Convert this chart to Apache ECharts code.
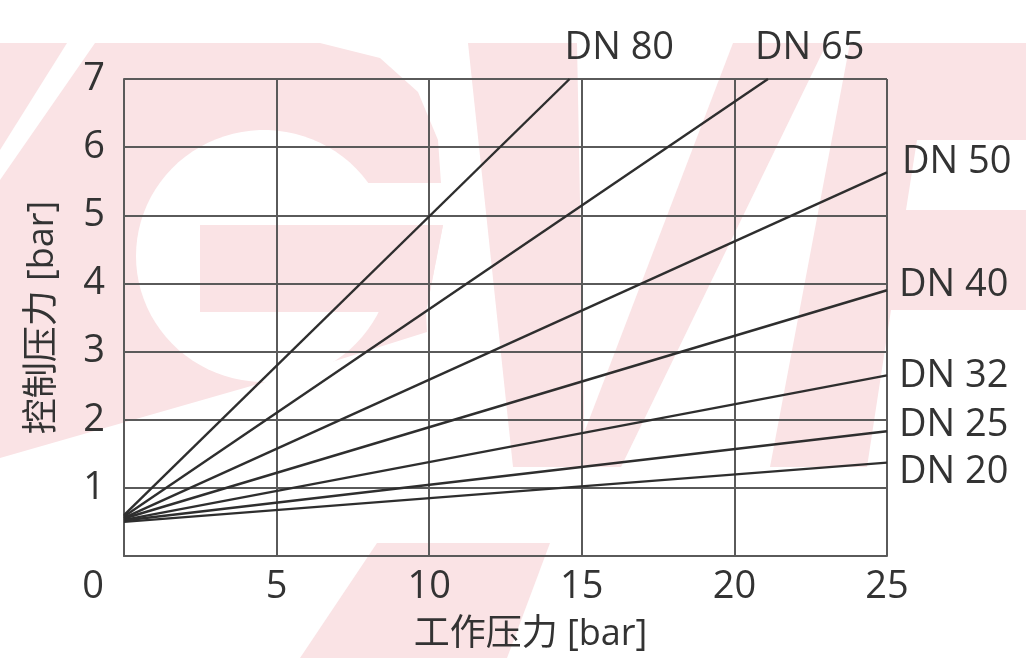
<!DOCTYPE html>
<html>
<head>
<meta charset="utf-8">
<script src="https://cdn.jsdelivr.net/npm/echarts@6/dist/echarts.min.js"></script>
<style>
html,body{margin:0;padding:0;background:#fff;}
#chart{width:1026px;height:658px;}
</style>
</head>
<body>
<div id="chart"></div>
<script>
// ---- data ----
const seriesNames = ['DN 80', 'DN 65', 'DN 50', 'DN 40', 'DN 32', 'DN 25', 'DN 20'];
const startX = [0, 0, 0, 0, 0, 0, 0];
const startY = [0.6, 0.58, 0.56, 0.55, 0.53, 0.52, 0.5];
const endX = [14.6, 21.1, 25, 25, 25, 25, 25];
const endY = [7, 7, 5.63, 3.9, 2.65, 1.83, 1.37];
const xTickLabels = [0, 5, 10, 15, 20, 25];
const yTickLabels = [0, 1, 2, 3, 4, 5, 6, 7];
const xAxisTitle = '工作压力 [bar]';
const yAxisTitle = '控制压力 [bar]';

// ---- style ----
const FONT = '"Open Sans", "Noto Sans CJK SC", sans-serif';
const TEXT = '#333333';
const GRIDC = '#5a5a5a';
const PINK = '#fae3e5';
const endLabelOffsets = [[-5, -31], [-13, -31], [15, -10], [12, -5], [12, 1], [12, -6], [12, 10]];

const chart = echarts.init(document.getElementById('chart'), null, {renderer: 'canvas'});

function ellipse(cx, cy, rx, ry, n) {
  const pts = [];
  for (let i = 0; i < n; i++) {
    const t = i / n * Math.PI * 2;
    pts.push([cx + rx * Math.cos(t), cy + ry * Math.sin(t)]);
  }
  return pts;
}

// watermark (decorative background logo)
const watermarkShapes = [
  {points: [[0, 43], [67, 43], [0, 150]]},
  {points: [[95, 43], [320, 43], [380, 58], [418, 92], [438, 140], [441, 183], [300, 183], [300, 225], [443, 225], [426, 312], [427, 332], [300, 372], [150, 415], [0, 458], [0, 180]]},
  {points: ellipse(264, 256, 128, 126, 90), fill: '#ffffff'},
  {points: [[200, 225], [443, 225], [426, 312], [200, 312]]},
  {points: [[468, 43], [577, 43], [585, 467], [513, 467]]},
  {points: [[733, 43], [827, 43], [621, 467], [571, 467]]},
  {points: [[850, 43], [1026, 43], [1026, 140], [917, 140], [906, 210], [1026, 210], [1026, 310], [891, 310], [867, 467], [770, 467]]},
  {points: [[377, 543], [550, 543], [507, 658], [300, 658]]}
];
const watermark = watermarkShapes.map(s => ({
  type: 'polygon', z: -100, silent: true,
  shape: {points: s.points},
  style: {fill: s.fill || PINK}
}));

const series = seriesNames.map((name, i) => ({
  name: name,
  type: 'line',
  data: [[startX[i], startY[i]], [endX[i], endY[i]]],
  showSymbol: false,
  symbol: 'none',
  clip: false,
  lineStyle: {color: '#2e2e2e', width: 2.4},
  z: 5,
  endLabel: {
    show: true,
    formatter: '{a}',
    distance: 0,
    offset: endLabelOffsets[i],
    fontSize: 38,
    fontFamily: FONT,
    color: TEXT
  }
}));

chart.setOption({
  animation: false,
  backgroundColor: '#ffffff',
  graphic: {elements: watermark},
  grid: {left: 124, right: 139, top: 79, bottom: 98, containLabel: false},
  xAxis: {
    type: 'value',
    min: xTickLabels[0],
    max: xTickLabels[xTickLabels.length - 1],
    interval: 5,
    name: xAxisTitle,
    nameLocation: 'middle',
    nameGap: 61,
    nameTextStyle: {fontSize: 36, fontFamily: FONT, color: TEXT, padding: [0, 0, 0, 50]},
    axisLine: {show: true, lineStyle: {color: GRIDC, width: 2}},
    axisTick: {show: false},
    axisLabel: {
      fontSize: 38, fontFamily: FONT, color: TEXT, margin: 12,
      formatter: v => (v === 0 ? '{z|0}' : String(v)),
      rich: {z: {fontSize: 38, fontFamily: FONT, color: TEXT, padding: [0, 62, 0, 0]}}
    },
    splitLine: {show: true, lineStyle: {color: GRIDC, width: 2}}
  },
  yAxis: {
    type: 'value',
    min: yTickLabels[0],
    max: yTickLabels[yTickLabels.length - 1],
    interval: 1,
    name: yAxisTitle,
    nameLocation: 'middle',
    nameGap: 63,
    nameRotate: 90,
    nameTextStyle: {fontSize: 36, fontFamily: FONT, color: TEXT},
    axisLine: {show: true, lineStyle: {color: GRIDC, width: 2}},
    axisTick: {show: false},
    axisLabel: {
      fontSize: 38, fontFamily: FONT, color: TEXT, margin: 19,
      formatter: v => (v === 0 ? '' : String(v))
    },
    splitLine: {show: true, lineStyle: {color: GRIDC, width: 2}}
  },
  series: series
});
</script>
</body>
</html>
